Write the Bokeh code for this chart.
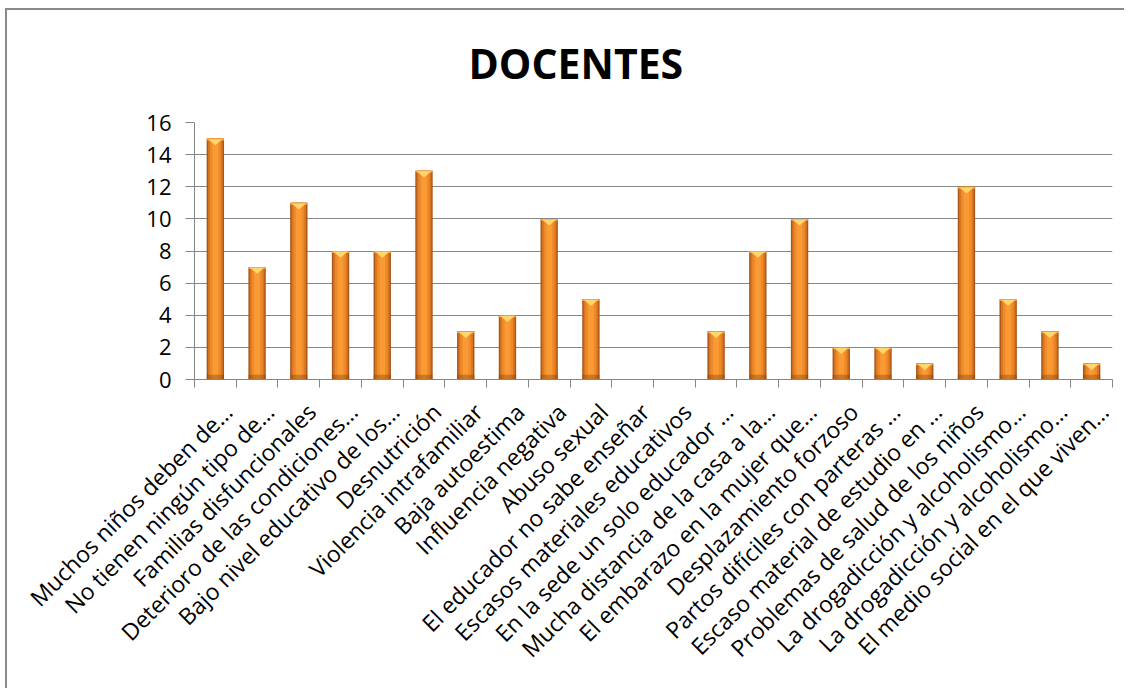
import math
from bokeh.plotting import figure
from bokeh.models import Range1d, FixedTicker, ColumnDataSource
from bokeh.embed import file_html
from bokeh.resources import INLINE

title_text = "DOCENTES"
categories = [
    "Muchos niños deben de…",
    "No tienen ningún tipo de…",
    "Familias disfuncionales",
    "Deterioro de las condiciones…",
    "Bajo nivel educativo de los…",
    "Desnutrición",
    "Violencia intrafamiliar",
    "Baja autoestima",
    "Influencia negativa",
    "Abuso sexual",
    "El educador no sabe enseñar",
    "Escasos materiales educativos",
    "En la sede un solo educador …",
    "Mucha distancia de la casa a la…",
    "El embarazo en la mujer que…",
    "Desplazamiento forzoso",
    "Partos difíciles con parteras …",
    "Escaso material de estudio en …",
    "Problemas de salud de los niños",
    "La drogadicción y alcoholismo…",
    "La drogadicción y alcoholismo…",
    "El medio social en el que viven…",
]
values = [15, 7, 11, 8, 8, 13, 3, 4, 10, 5, 0, 0, 3, 8, 10, 2, 2, 1, 12, 5, 3, 1]
y_ticks = [0, 2, 4, 6, 8, 10, 12, 14, 16]

n = len(categories)
xs = [i for i, v in enumerate(values) if v > 0]
vs = [v for v in values if v > 0]
src = ColumnDataSource(dict(x=xs, top=vs, capb=[v - 0.12 for v in vs]))

W, H = 1124, 688
p = figure(width=W, height=H, output_backend="svg", toolbar_location=None,
           x_range=Range1d(-0.5, n - 0.5), y_range=Range1d(0, 16),
           min_border_left=194, min_border_right=12,
           min_border_top=122, min_border_bottom=309)
p.outline_line_color = None
p.background_fill_color = "white"
p.border_fill_color = None
# outer chart border: left and top edges, drawn behind the transparent canvas
p.styles = {
    "background": ("linear-gradient(#8a8a8a, #8a8a8a) 5px 8px / 2px 100% no-repeat, "
                   "linear-gradient(#8a8a8a, #8a8a8a) 5px 8px / 100% 2px no-repeat, "
                   "white"),
}

p.title.text = title_text
p.title.text_font = "Open Sans"
p.title.text_font_size = "41px"
p.title.text_font_style = "bold"
p.title.text_color = "black"
p.title.align = "left"
p.title.offset = 274
p.title.standoff = 64

# shadow
p.vbar(x="x", top="top", bottom=0, width=0.42, source=src,
       fill_color="#000000", fill_alpha=0.07, line_color=None)
# bar layers (cylinder look)
p.vbar(x="x", top="top", bottom=0, width=0.415, source=src,
       fill_color="#A9561A", line_color=None)
p.vbar(x="x", top="top", bottom=0, width=0.35, source=src,
       fill_color="#D8761F", line_color=None)
p.vbar(x="x", top="top", bottom=0, width=0.26, source=src,
       fill_color="#EF8A2A", line_color=None)
p.vbar(x="x", top="top", bottom=0, width=0.14, source=src,
       fill_color="#F99A35", line_color=None)
# darker base
p.vbar(x="x", top=0.3, bottom=0, width=0.415, source=src,
       fill_color="#7A3A0A", fill_alpha=0.35, line_color=None)
# top cap
p.vbar(x="x", top="top", bottom="capb", width=0.415, source=src,
       fill_color="#F5A040", line_color=None)
tri_x = [[i - 0.17, i + 0.17, i] for i in xs]
tri_y = [[v - 0.04, v - 0.04, v - 0.42] for v in vs]
p.patches(tri_x, tri_y, fill_color="#FFD66E", line_color=None)

# axes
label_shift = 0.3
xax = p.xaxis[0]
xax.ticker = FixedTicker(ticks=[i + label_shift for i in range(n)],
                         minor_ticks=[i - 0.5 for i in range(n + 1)])
xax.major_label_overrides = {i + label_shift: c for i, c in enumerate(categories)}
xax.major_label_orientation = math.pi / 4
xax.major_label_text_font = "Open Sans"
xax.major_label_text_font_size = "23px"
xax.major_label_text_color = "black"
xax.major_label_standoff = 20
xax.major_tick_out = 0
xax.major_tick_in = 0
xax.minor_tick_out = 8
xax.minor_tick_in = 0
xax.minor_tick_line_color = "#868686"
xax.axis_line_color = "#868686"

yax = p.yaxis[0]
yax.ticker = FixedTicker(ticks=y_ticks)
yax.major_label_text_font = "Open Sans"
yax.major_label_text_font_size = "22px"
yax.major_label_text_color = "black"
yax.major_tick_out = 9
yax.major_tick_in = 0
yax.minor_tick_out = 0
yax.minor_tick_in = 0
yax.major_tick_line_color = "#868686"
yax.axis_line_color = "#868686"
yax.major_label_standoff = 14

p.xgrid.grid_line_color = None
p.ygrid.grid_line_color = "#878787"
p.ygrid.ticker = FixedTicker(ticks=y_ticks)

open("out.html", "w").write(file_html(p, INLINE))
